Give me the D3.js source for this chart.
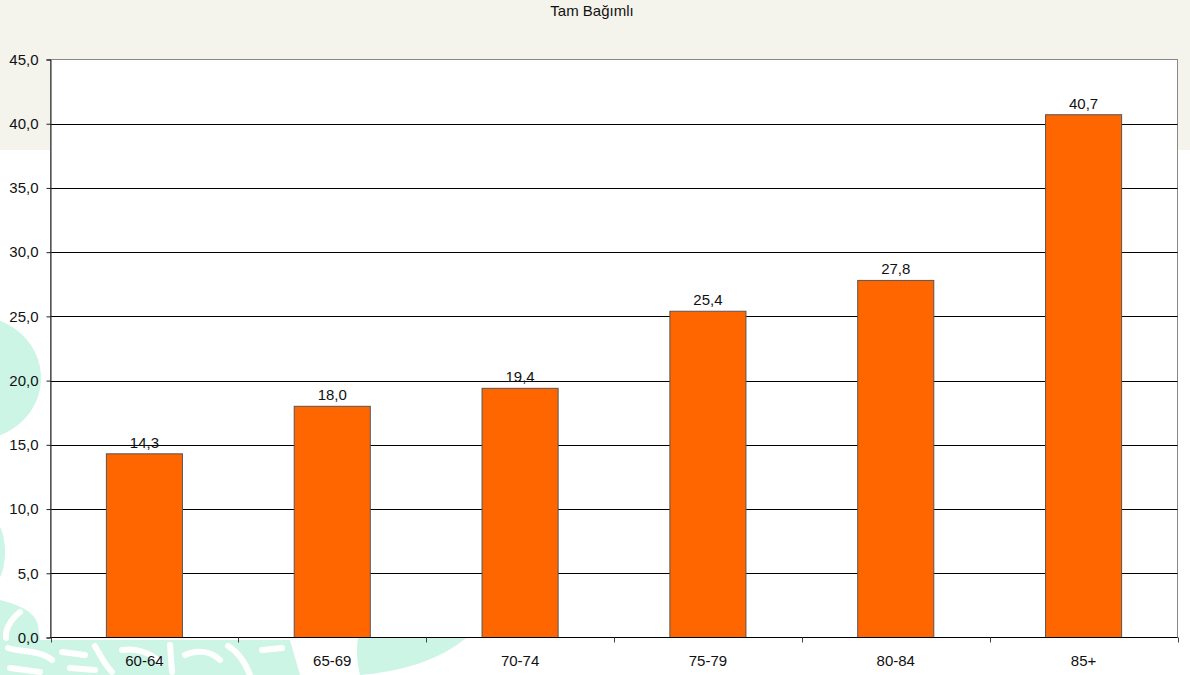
<!DOCTYPE html>
<html><head><meta charset="utf-8">
<script src="https://cdn.jsdelivr.net/npm/d3@7"></script>
<style>html,body{margin:0;padding:0;background:#fff;}svg{display:block;font-family:"Liberation Sans",Arial,sans-serif;}</style>
</head><body>
<svg id="c" width="1190" height="675"></svg>
<script>
const title = "Tam Bağımlı";
const categories = ["60-64","65-69","70-74","75-79","80-84","85+"];
const values = [14.3, 18.0, 19.4, 25.4, 27.8, 40.7];
const yTicks = [0,5,10,15,20,25,30,35,40,45];

const svg = d3.select("#c");
const W = 1190, H = 675;
const m = {left: 50.5, right: 1177.5, top: 59.5, bottom: 637.5};
const loc = d3.formatLocale({decimal: ",", thousands: ".", grouping: [3], currency: ["", ""]});
const fmt = loc.format(".1f");
const FS = 15;

// background
svg.append("rect").attr("width", W).attr("height", H).attr("fill", "#fff");
svg.append("rect").attr("width", W).attr("height", 150).attr("fill", "#F4F3EC");
// decorative mint shapes
const mint = "#CCF5E6";
const deco = svg.append("g").attr("fill", mint);
deco.append("ellipse").attr("cx", -25).attr("cy", 378).attr("rx", 66).attr("ry", 62);
deco.append("ellipse").attr("cx", -8).attr("cy", 552).attr("rx", 13).attr("ry", 32);
deco.append("path").attr("d", "M358,638 L466,638 C440,660 400,672 360,675 C357,662 356,650 358,638 Z");
// bottom-left maze-like pattern
deco.append("path").attr("d", "M0,600 C20,605 35,612 38,625 L40,640 L290,640 L300,675 L0,675 Z");
const holes = svg.append("g").attr("fill", "none").attr("stroke", "#fff").attr("stroke-width", 6).attr("stroke-linecap", "round");
holes.append("path").attr("d", "M8,648 C20,652 40,650 52,660 M62,652 L85,655 M95,646 C100,655 105,665 112,672");
holes.append("path").attr("d", "M122,650 C135,648 150,652 160,662 M170,645 L172,672 M185,655 C195,650 210,650 220,660");
holes.append("path").attr("d", "M228,646 C238,652 245,662 250,675 M262,650 L282,648 M10,668 L40,672 M70,668 L95,670");
holes.append("path").attr("d", "M20,612 C10,620 5,630 6,638");

const x = d3.scaleBand().domain(categories).range([m.left, m.right]).padding(0);
const y = d3.scaleLinear().domain([0, 45]).range([m.bottom, m.top]);

// plot area
svg.append("rect").attr("x", m.left).attr("y", m.top)
  .attr("width", m.right - m.left).attr("height", m.bottom - m.top)
  .attr("fill", "#fff").attr("stroke", "#888").attr("stroke-width", 1);

// gridlines
svg.append("g").selectAll("line").data(yTicks.filter(d => d > 0 && d < 45)).join("line")
  .attr("x1", m.left).attr("x2", m.right)
  .attr("y1", d => Math.round(y(d)) + 0.5).attr("y2", d => Math.round(y(d)) + 0.5)
  .attr("stroke", "#000").attr("stroke-width", 1);

// bars
const bw = x.bandwidth() * 0.405;
svg.append("g").selectAll("rect").data(values).join("rect")
  .attr("x", (d, i) => x(categories[i]) + x.bandwidth() / 2 - bw / 2)
  .attr("y", d => y(d))
  .attr("width", bw)
  .attr("height", d => y(0) - y(d))
  .attr("fill", "#FF6600").attr("stroke", "#555").attr("stroke-width", 1);

// value labels
svg.append("g").selectAll("text").data(values).join("text")
  .attr("x", (d, i) => x(categories[i]) + x.bandwidth() / 2)
  .attr("y", d => y(d) - 6)
  .attr("text-anchor", "middle").attr("font-size", FS).attr("fill", "#111")
  .text(d => fmt(d));

// y axis
const yAxis = d3.axisLeft(y).tickValues(yTicks).tickFormat(fmt).tickSize(4).tickPadding(8);
const gy = svg.append("g").attr("transform", `translate(${m.left},0)`).call(yAxis);
gy.select(".domain").attr("stroke", "#222");
gy.selectAll(".tick line").attr("stroke", "#222");
gy.selectAll("text").attr("font-size", FS).attr("fill", "#111").attr("font-family", "Liberation Sans, Arial, sans-serif");

// x axis
const gx = svg.append("g").attr("transform", `translate(0,${m.bottom})`);
gx.append("line").attr("x1", m.left).attr("x2", m.right).attr("y1", 0).attr("y2", 0).attr("stroke", "#000");
const edges = categories.map(c => x(c)).concat([m.right]);
gx.selectAll("line.t").data(edges).join("line").attr("class", "t")
  .attr("x1", d => Math.round(d) + 0.5).attr("x2", d => Math.round(d) + 0.5)
  .attr("y1", 0).attr("y2", 5).attr("stroke", "#444");
gx.selectAll("text").data(categories).join("text")
  .attr("x", d => x(d) + x.bandwidth() / 2).attr("y", 28)
  .attr("text-anchor", "middle").attr("font-size", FS).attr("fill", "#111")
  .text(d => d);

// title
svg.append("text").attr("x", 592).attr("y", 16).attr("text-anchor", "middle")
  .attr("font-size", FS).attr("fill", "#111").text(title);
</script>
</body></html>
